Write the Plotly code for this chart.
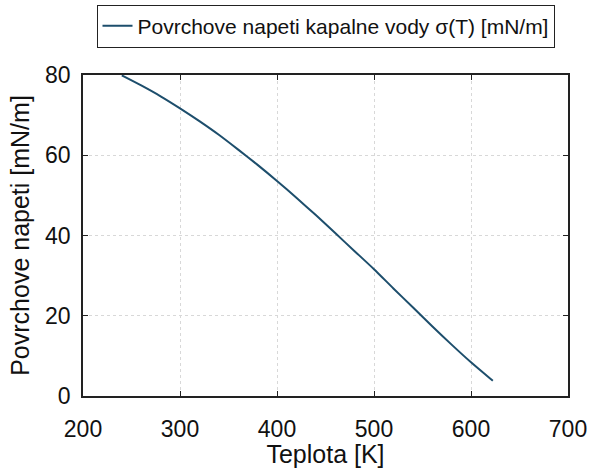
import plotly.graph_objects as go

teplota = [240, 260, 280, 300, 320, 340, 360, 380, 400, 420, 440, 460, 480,
           500, 520, 540, 560, 580, 600, 620, 622.5]
sigma = [79.9, 77.4, 74.7, 71.7, 68.5, 65.1, 61.4, 57.6, 53.6, 49.4, 45.1, 40.6,
         36.1, 31.6, 26.8, 22.1, 17.4, 12.8, 8.4, 4.3, 3.8]
x_ticks = [200, 300, 400, 500, 600, 700]
y_ticks = [0, 20, 40, 60, 80]

font = "Liberation Sans, Arial, sans-serif"

fig = go.Figure()
fig.add_trace(go.Scatter(
    x=teplota, y=sigma, mode="lines",
    line=dict(color="#1d4e6c", width=2, shape="spline", smoothing=0.6),
    name="Povrchove napeti kapalne vody σ(T) [mN/m]",
    showlegend=True,
))

axis_common = dict(
    showline=True, linecolor="#222", linewidth=1.5, mirror="ticks",
    ticks="inside", ticklen=5, tickcolor="#222", automargin=False,
    showgrid=True, gridcolor="#d8d8d8", griddash="dot", gridwidth=1,
    zeroline=False, tickfont=dict(size=23, color="#111", family=font),
)

fig.update_xaxes(range=[200, 700], tickvals=x_ticks, ticklabelstandoff=12,
                 title=dict(text="Teplota [K]", font=dict(size=25, color="#111", family=font), standoff=4),
                 **axis_common)
fig.update_yaxes(range=[0, 80], tickvals=y_ticks, ticklabelstandoff=6,
                 title=dict(text="Povrchove napeti [mN/m]", font=dict(size=25, color="#111", family=font), standoff=8),
                 **axis_common)

fig.update_layout(
    width=590, height=468,
    margin=dict(l=83, r=22, t=75, b=72, autoexpand=False),
    paper_bgcolor="white", plot_bgcolor="white",
    font=dict(family=font, color="#111"),
    legend=dict(x=0.5, xanchor="center", y=1.085, yanchor="bottom",
                bordercolor="#222", borderwidth=1, bgcolor="white",
                font=dict(size=21, family=font, color="#111"),
                itemwidth=30),
)

fig.write_html("out.html")
